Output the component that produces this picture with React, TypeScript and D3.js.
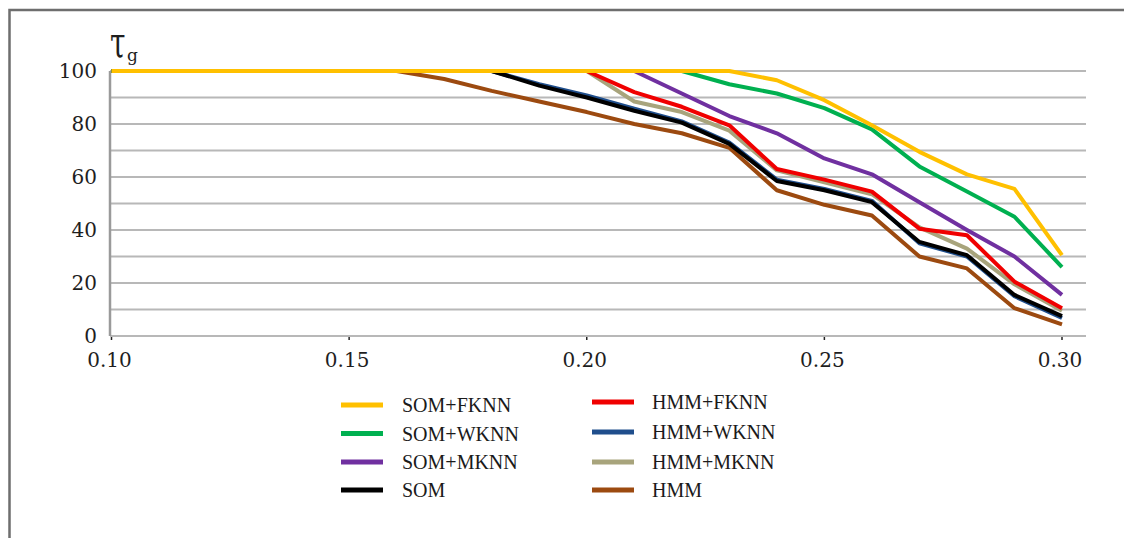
import React from "react";
import * as d3 from "d3";

const X_VALUES = [0.10, 0.11, 0.12, 0.13, 0.14, 0.15, 0.16, 0.17, 0.18, 0.19, 0.20, 0.21, 0.22, 0.23, 0.24, 0.25, 0.26, 0.27, 0.28, 0.29, 0.30];

const SOM_FKNN = [100, 100, 100, 100, 100, 100, 100, 100, 100, 100, 100, 100, 100, 100, 96.5, 89, 79.5, 69.5, 61, 55.5, 30.5];
const SOM_WKNN = [100, 100, 100, 100, 100, 100, 100, 100, 100, 100, 100, 100, 100, 95, 91.5, 86, 78, 64, 54.5, 45, 26];
const SOM_MKNN = [100, 100, 100, 100, 100, 100, 100, 100, 100, 100, 100, 100, 91.5, 83, 76.5, 67, 61, 50.5, 40, 30, 15.5];
const SOM = [100, 100, 100, 100, 100, 100, 100, 100, 100, 94.5, 90, 85, 80.5, 72.5, 58.5, 55, 50.5, 35.5, 30.5, 15.5, 7.5];
const HMM_FKNN = [100, 100, 100, 100, 100, 100, 100, 100, 100, 100, 100, 92, 86.5, 79.5, 63, 59, 54.5, 40.5, 38, 20.5, 10.5];
const HMM_WKNN = [100, 100, 100, 100, 100, 100, 100, 100, 100, 95, 90.8, 85.8, 81, 73, 59, 55.5, 51, 35, 30, 15, 6.8];
const HMM_MKNN = [100, 100, 100, 100, 100, 100, 100, 100, 100, 100, 100, 88.5, 84.5, 77.5, 62.5, 58, 53.5, 41, 33, 19.5, 9.5];
const HMM = [100, 100, 100, 100, 100, 100, 100, 97, 92.5, 88.5, 84.5, 80, 76.5, 71, 55, 49.5, 45.5, 30, 25.5, 10.5, 4.4];

const SERIES_NAMES = ["SOM+FKNN", "SOM+WKNN", "SOM+MKNN", "SOM", "HMM+FKNN", "HMM+WKNN", "HMM+MKNN", "HMM"];
const SERIES_VALUES = [SOM_FKNN, SOM_WKNN, SOM_MKNN, SOM, HMM_FKNN, HMM_WKNN, HMM_MKNN, HMM];
const SERIES_COLORS = ["#FFC000", "#00B050", "#7030A0", "#000000", "#F00000", "#1F4E8C", "#A8A47C", "#9C4A10"];
const DRAW_ORDER = [7, 6, 4, 5, 3, 2, 1, 0];

const Y_GRID = [0, 10, 20, 30, 40, 50, 60, 70, 80, 90, 100];
const Y_TICKS = [0, 20, 40, 60, 80, 100];
const X_TICKS = [0.10, 0.15, 0.20, 0.25, 0.30];
const X_TICK_LABELS = ["0.10", "0.15", "0.20", "0.25", "0.30"];

export default function App() {
  const W = 1124;
  const H = 538;
  const x = d3.scaleLinear().domain([0.10, 0.30]).range([111.5, 1062]);
  const y = d3.scaleLinear().domain([0, 100]).range([336, 71]);
  const line = d3
    .line<number>()
    .x((_, i) => x(X_VALUES[i]))
    .y((d) => y(d));

  const gridRight = 1086;
  const axisX = 110;

  const legendCols = [
    { lineX: 341, textX: 402, rows: [405, 433.5, 462, 490] },
    { lineX: 592, textX: 652, rows: [402, 432, 462, 490] },
  ];

  return (
    <svg
      width={W}
      height={H}
      style={{ position: "absolute", left: 0, top: 0, background: "#fff" }}
    >
      <rect x={0} y={0} width={W} height={H} fill="#fff" />
      {/* outer frame */}
      <path d={`M9.5,${H} L9.5,10 L${W},10`} fill="none" stroke="#6e6e6e" strokeWidth={2.5} />

      {/* grid */}
      {Y_GRID.map((v) => (
        <line key={v} x1={axisX} x2={gridRight} y1={y(v)} y2={y(v)} stroke="#b8b8b8" strokeWidth={2} />
      ))}
      <line x1={axisX} x2={axisX} y1={y(100)} y2={y(0)} stroke="#9a9a9a" strokeWidth={2.5} />

      {/* y tick labels */}
      {Y_TICKS.map((v) => (
        <text
          key={v}
          x={97}
          y={y(v)}
          textAnchor="end"
          dominantBaseline="central"
          fontFamily="DejaVu Serif"
          fontSize={20}
          fill="#1e1e1e"
        >
          {v}
        </text>
      ))}

      {/* x ticks */}
      {X_TICKS.map((v, i) => (
        <g key={v}>
          <line x1={x(v)} x2={x(v)} y1={y(0) + 1} y2={y(0) + 4} stroke="#222" strokeWidth={1.5} />
          <text
            x={x(v) - 2}
            y={360}
            textAnchor="middle"
            dominantBaseline="central"
            fontFamily="DejaVu Serif"
            fontSize={20}
            fill="#1e1e1e"
          >
            {X_TICK_LABELS[i]}
          </text>
        </g>
      ))}

      {/* axis title */}
      <text
        x={0}
        y={0}
        transform="translate(110,57) scale(1,1.55)"
        fontFamily="DejaVu Serif"
        fontSize={28}
        fill="#1e1e1e"
      >
        τ
      </text>
      <text x={127} y={61} fontFamily="DejaVu Serif" fontSize={17} fill="#1e1e1e">
        g
      </text>

      {/* series lines */}
      {DRAW_ORDER.map((si) => (
        <path
          key={SERIES_NAMES[si]}
          d={line(SERIES_VALUES[si]) || ""}
          fill="none"
          stroke={SERIES_COLORS[si]}
          strokeWidth={4}
          strokeLinejoin="round"
          strokeLinecap="butt"
        />
      ))}

      {/* legend */}
      {SERIES_NAMES.map((name, si) => {
        const col = legendCols[si < 4 ? 0 : 1];
        const ry = col.rows[si % 4];
        return (
          <g key={name}>
            <line x1={col.lineX} x2={col.lineX + 42} y1={ry} y2={ry} stroke={SERIES_COLORS[si]} strokeWidth={5} />
            <text
              x={col.textX}
              y={ry}
              dominantBaseline="central"
              fontFamily="Liberation Serif"
              fontSize={20}
              fill="#1a1a1a"
            >
              {name}
            </text>
          </g>
        );
      })}
    </svg>
  );
}
